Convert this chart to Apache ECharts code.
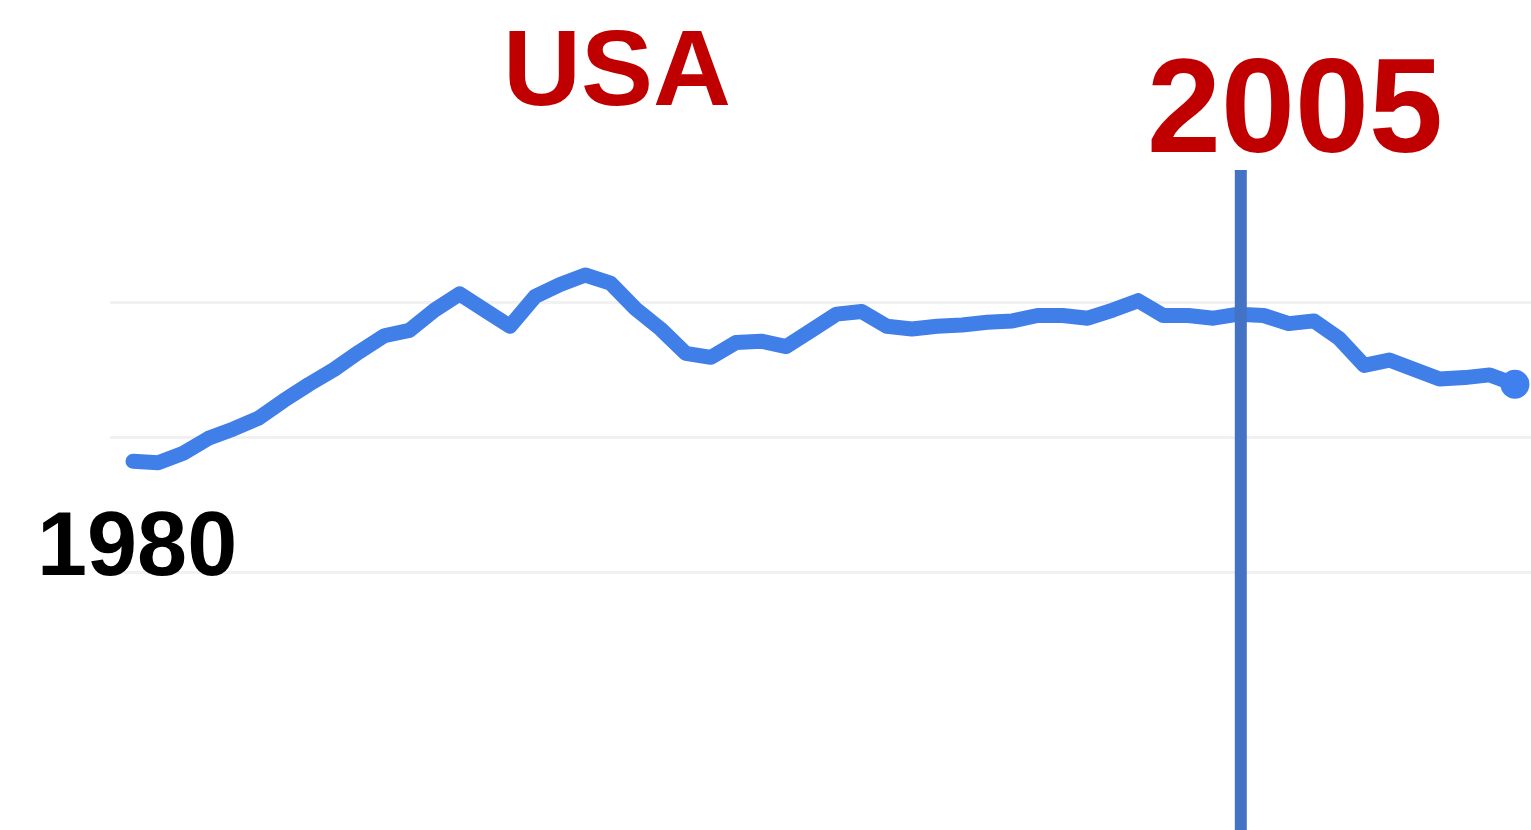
<!DOCTYPE html>
<html>
<head>
<meta charset="utf-8">
<script src="https://cdn.jsdelivr.net/npm/echarts@6/dist/echarts.min.js"></script>
<style>
html,body{margin:0;padding:0;background:#fff;}
#c{width:1531px;height:830px;}
</style>
</head>
<body>
<div id="c"></div>
<script>
// Point index (evenly spaced periods starting 1980)
const periods = Array.from({length:56}, (_, i) => i);
// Series values (relative units; gridlines at 0, 1, 2)
const usaValues = [
  0.82, 0.81, 0.88, 0.99, 1.06, 1.14, 1.27, 1.39, 1.50, 1.63,
  1.75, 1.79, 1.94, 2.06, 1.94, 1.82, 2.04, 2.13, 2.20, 2.14,
  1.95, 1.80, 1.62, 1.59, 1.70, 1.71, 1.67, 1.79, 1.91, 1.93,
  1.82, 1.80, 1.82, 1.83, 1.85, 1.86, 1.90, 1.90, 1.88, 1.94,
  2.01, 1.90, 1.90, 1.88, 1.91, 1.90, 1.84, 1.86, 1.73, 1.53,
  1.57, 1.50, 1.43, 1.44, 1.46, 1.39
];
const markerIndex = 44.09;        // position of 2005
const markerSpan = [2.978, -1.93]; // vertical extent of the 2005 marker line
const titleText = 'USA';
const startLabel = '1980';
const markerLabel = '2005';

const chart = echarts.init(document.getElementById('c'), null, {renderer:'canvas'});
const lastIdx = usaValues.length - 1;

chart.setOption({
  animation: false,
  backgroundColor: '#ffffff',
  grid: {left: 110, right: 0, top: 302, bottom: 258, containLabel: false},
  xAxis: {
    type: 'value', min: -0.915, max: 55.64,
    show: false, splitLine: {show: false}
  },
  yAxis: {
    type: 'value', min: 0, max: 2, interval: 1,
    axisLine: {show: false}, axisTick: {show: false}, axisLabel: {show: false},
    splitLine: {show: true, lineStyle: {color: '#f1f1f1', width: 3}}
  },
  series: [{
    type: 'line',
    data: periods.map((p, i) => [p, usaValues[i]]),
    clip: false,
    showSymbol: false,
    symbol: 'none',
    z: 2,
    lineStyle: {color: '#407ee8', width: 15, cap: 'round', join: 'round'}
  }, {
    type: 'scatter',
    data: [[periods[lastIdx], usaValues[lastIdx]]],
    symbol: 'circle',
    symbolSize: 29,
    clip: false,
    z: 3,
    itemStyle: {color: '#3f7fee', opacity: 1}
  }, {
    type: 'line',
    data: markerSpan.map(v => [markerIndex, v]),
    clip: false,
    showSymbol: false,
    symbol: 'none',
    z: 4,
    silent: true,
    lineStyle: {color: '#4472c4', width: 12, cap: 'butt'}
  }],
  graphic: [
    {type: 'text', z: 100, x: 617, y: 75, style: {text: titleText, fill: '#c00000',
      font: 'bold 108px "Liberation Sans", Arial, sans-serif', align: 'center', verticalAlign: 'middle'}},
    {type: 'text', z: 100, x: 1147, y: 115, style: {text: markerLabel, fill: '#c00000',
      font: 'bold 133px "Liberation Sans", Arial, sans-serif', align: 'left', verticalAlign: 'middle'}},
    {type: 'text', z: 100, x: 37, y: 550, style: {text: startLabel, fill: '#000000',
      font: 'bold 90px "Liberation Sans", Arial, sans-serif', align: 'left', verticalAlign: 'middle'}}
  ]
});
</script>
</body>
</html>
